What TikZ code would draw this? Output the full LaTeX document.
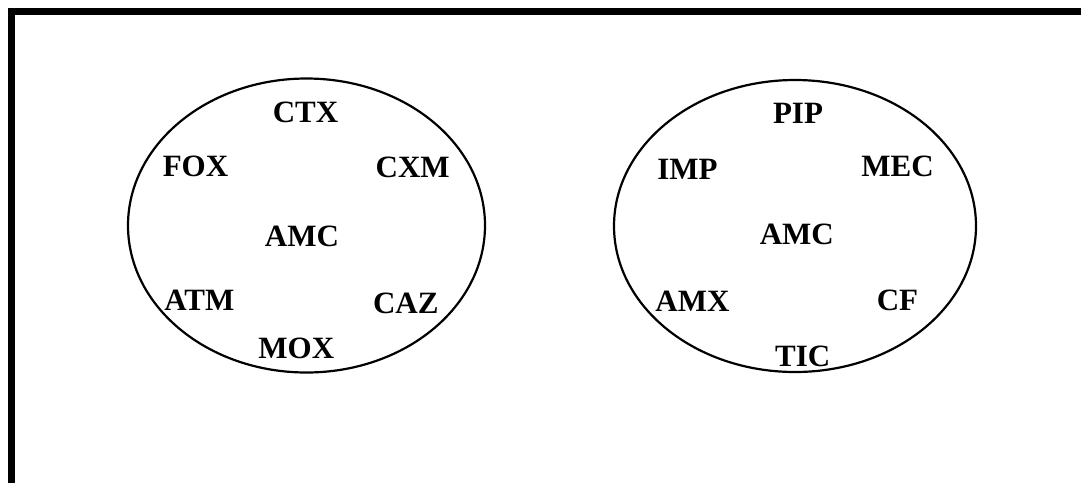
\documentclass[tikz,border=0pt]{standalone}
\usepackage{fontspec}
\setmainfont{Liberation Serif}
\begin{document}
\begin{tikzpicture}[x=1pt,y=-1pt,
  lbl/.style={anchor=base,inner sep=0pt,font=\fontsize{31}{31}\selectfont\bfseries},
  ring/.style={line width=2.2pt}]
\useasboundingbox (0,0) rectangle (1081,483);
% open frame: top and left edges
\draw[line width=7pt,line join=miter] (11.5,483) -- (11.5,11.5) -- (1081,11.5);
% left group
\draw[ring] (306.5,225.5) ellipse [x radius=178.5, y radius=147];
\node[lbl] (ctx) at (305.5,122.7) {CTX};
\node[lbl] (fox) at (195.5,176.7) {FOX};
\node[lbl] (cxm) at (412.7,177.7) {CXM};
\node[lbl] (amcL) at (302,246.7) {AMC};
\node[lbl] (atm) at (199.3,310) {ATM};
\node[lbl] (caz) at (405.8,313.3) {CAZ};
\node[lbl] (mox) at (296.3,358.3) {MOX};
% right group
\draw[ring] (795,226) ellipse [x radius=181, y radius=146];
\node[lbl] (pip) at (798,123.3) {PIP};
\node[lbl] (imp) at (687.5,179) {IMP};
\node[lbl] (mec) at (897.5,176.7) {MEC};
\node[lbl] (amcR) at (796.8,244.3) {AMC};
\node[lbl] (amx) at (692.5,311.7) {AMX};
\node[lbl] (cf) at (897.5,310) {CF};
\node[lbl] (tic) at (802.8,366) {TIC};
\end{tikzpicture}
\end{document}
